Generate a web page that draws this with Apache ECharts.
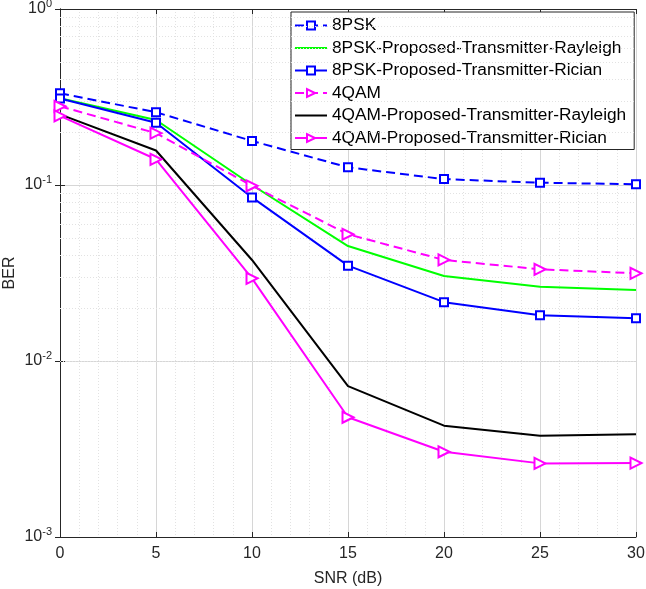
<!DOCTYPE html>
<html>
<head>
<meta charset="utf-8">
<script src="https://cdn.jsdelivr.net/npm/echarts@6/dist/echarts.min.js"></script>
<style>
  html, body { margin: 0; padding: 0; background: #fff; }
  #chart { width: 646px; height: 589px; }
</style>
</head>
<body>
<div id="chart"></div>
<script>
const snr = [0, 5, 10, 15, 20, 25, 30];

const psk8 = [0.332, 0.259, 0.178, 0.126, 0.108, 0.103, 0.101];
const psk8Rayleigh = [0.311, 0.234, 0.1, 0.045, 0.0304, 0.0264, 0.0253];
const psk8Rician = [0.31, 0.226, 0.085, 0.0348, 0.0216, 0.0182, 0.0175];
const qam4 = [0.28, 0.197, 0.099, 0.0525, 0.0375, 0.0332, 0.0315];
const qam4Rayleigh = [0.252, 0.157, 0.0375, 0.0072, 0.00429, 0.00376, 0.00383];
const qam4Rician = [0.247, 0.14, 0.0295, 0.00479, 0.00305, 0.00262, 0.00263];

const yMinorGrid = [];
[0.001, 0.01, 0.1].forEach(d => {
  for (let k = 2; k <= 9; k++) yMinorGrid.push(d * k);
});

const FONT = '"Liberation Sans", Arial, sans-serif';
const AXIS = '#262626';
// plain line icon for the legend entries without markers
const LINE_ICON = 'path://M0,0 L32,0 L32,2 L0,2 Z';

const pairs = ys => snr.map((x, i) => [x, ys[i]]);

const line = (name, ys, color, dashed, symbol) => ({
  name,
  type: 'line',
  z: 5,
  data: pairs(ys),
  symbol: symbol || 'none',
  symbolSize: symbol === 'emptyTriangle' ? 11 : 8,
  symbolRotate: symbol === 'emptyTriangle' ? -90 : 0,
  showSymbol: !!symbol,
  color,
  itemStyle: { color, borderWidth: 1.5 },
  lineStyle: { color, width: 2, type: dashed ? [9, 5] : 'solid' },
  animation: false,
});

const plainEntry = name => ({ name, icon: LINE_ICON, itemStyle: { borderWidth: 0 } });

const supLabel = v => '10{sup|' + Math.round(Math.log10(v)) + '}';

const createOption = () => ({
  animation: false,
  grid: { left: 60, right: 10, top: 9, bottom: 52, outerBoundsMode: 'none', containLabel: false },
  legend: {
    orient: 'vertical',
    left: 291,
    top: 12,
    padding: [5, 8, 3, 3],
    itemWidth: 32,
    itemHeight: 10,
    itemGap: 5.5,
    backgroundColor: '#fff',
    borderColor: AXIS,
    borderWidth: 1,
    textStyle: { fontFamily: FONT, fontSize: 17.3, color: '#000', lineHeight: 17 },
    data: [
      { name: '8PSK' },
      plainEntry('8PSK-Proposed-Transmitter-Rayleigh'),
      { name: '8PSK-Proposed-Transmitter-Rician' },
      { name: '4QAM' },
      plainEntry('4QAM-Proposed-Transmitter-Rayleigh'),
      { name: '4QAM-Proposed-Transmitter-Rician' },
    ],
  },
  xAxis: [
    {
      type: 'value',
      min: 0,
      max: 30,
      interval: 5,
      name: 'SNR (dB)',
      nameLocation: 'middle',
      nameGap: 34,
      nameTextStyle: { fontFamily: FONT, fontSize: 16, color: AXIS },
      axisLine: { lineStyle: { color: AXIS } },
      axisTick: { inside: true, length: 5, lineStyle: { color: AXIS } },
      minorTick: { show: true, splitNumber: 5, length: 0 },
      axisLabel: { fontFamily: FONT, fontSize: 16, color: AXIS, margin: 9 },
      splitLine: { show: true, lineStyle: { color: '#d6d6d6', width: 1 } },
      minorSplitLine: { show: true, lineStyle: { color: '#e2e2e2', type: [1, 2], width: 1 } },
    },
    {
      type: 'value',
      position: 'top',
      min: 0,
      max: 30,
      interval: 5,
      axisLine: { show: true, lineStyle: { color: AXIS } },
      axisTick: { inside: true, length: 5, lineStyle: { color: AXIS } },
      axisLabel: { show: false },
      splitLine: { show: false },
    },
  ],
  yAxis: [
    {
      type: 'log',
      logBase: 10,
      min: 0.001,
      max: 1,
      name: 'BER',
      nameLocation: 'middle',
      nameGap: 42,
      nameMoveOverlap: false,
      nameTextStyle: { fontFamily: FONT, fontSize: 16, color: AXIS },
      axisLine: { show: true, lineStyle: { color: AXIS } },
      axisTick: { inside: true, length: 5, lineStyle: { color: AXIS } },
      axisLabel: {
        fontFamily: FONT,
        fontSize: 16,
        color: AXIS,
        margin: 8,
        formatter: supLabel,
        rich: {
          sup: { fontFamily: FONT, fontSize: 11, color: AXIS, padding: [0, 0, 10, 0] },
        },
      },
      splitLine: { show: true, lineStyle: { color: '#d6d6d6', width: 1 } },
    },
    {
      type: 'log',
      logBase: 10,
      position: 'right',
      min: 0.001,
      max: 1,
      axisLine: { show: true, lineStyle: { color: AXIS } },
      axisTick: { inside: true, length: 5, lineStyle: { color: AXIS } },
      axisLabel: { show: false },
      splitLine: { show: false },
    },
  ],
  series: [
    {
      type: 'line',
      data: [],
      z: 1,
      silent: true,
      markLine: {
        silent: true,
        symbol: 'none',
        animation: false,
        label: { show: false },
        lineStyle: { color: '#e2e2e2', type: [1, 2], width: 1 },
        data: yMinorGrid.map(v => ({ yAxis: v })),
      },
    },
    line('8PSK', psk8, '#0000ff', true, 'emptyRect'),
    line('8PSK-Proposed-Transmitter-Rayleigh', psk8Rayleigh, '#00ff00', false),
    line('8PSK-Proposed-Transmitter-Rician', psk8Rician, '#0000ff', false, 'emptyRect'),
    line('4QAM', qam4, '#ff00ff', true, 'emptyTriangle'),
    line('4QAM-Proposed-Transmitter-Rayleigh', qam4Rayleigh, '#000000', false),
    line('4QAM-Proposed-Transmitter-Rician', qam4Rician, '#ff00ff', false, 'emptyTriangle'),
  ],
});

const chart = echarts.init(document.getElementById('chart'));
chart.setOption(createOption());
</script>
</body>
</html>
